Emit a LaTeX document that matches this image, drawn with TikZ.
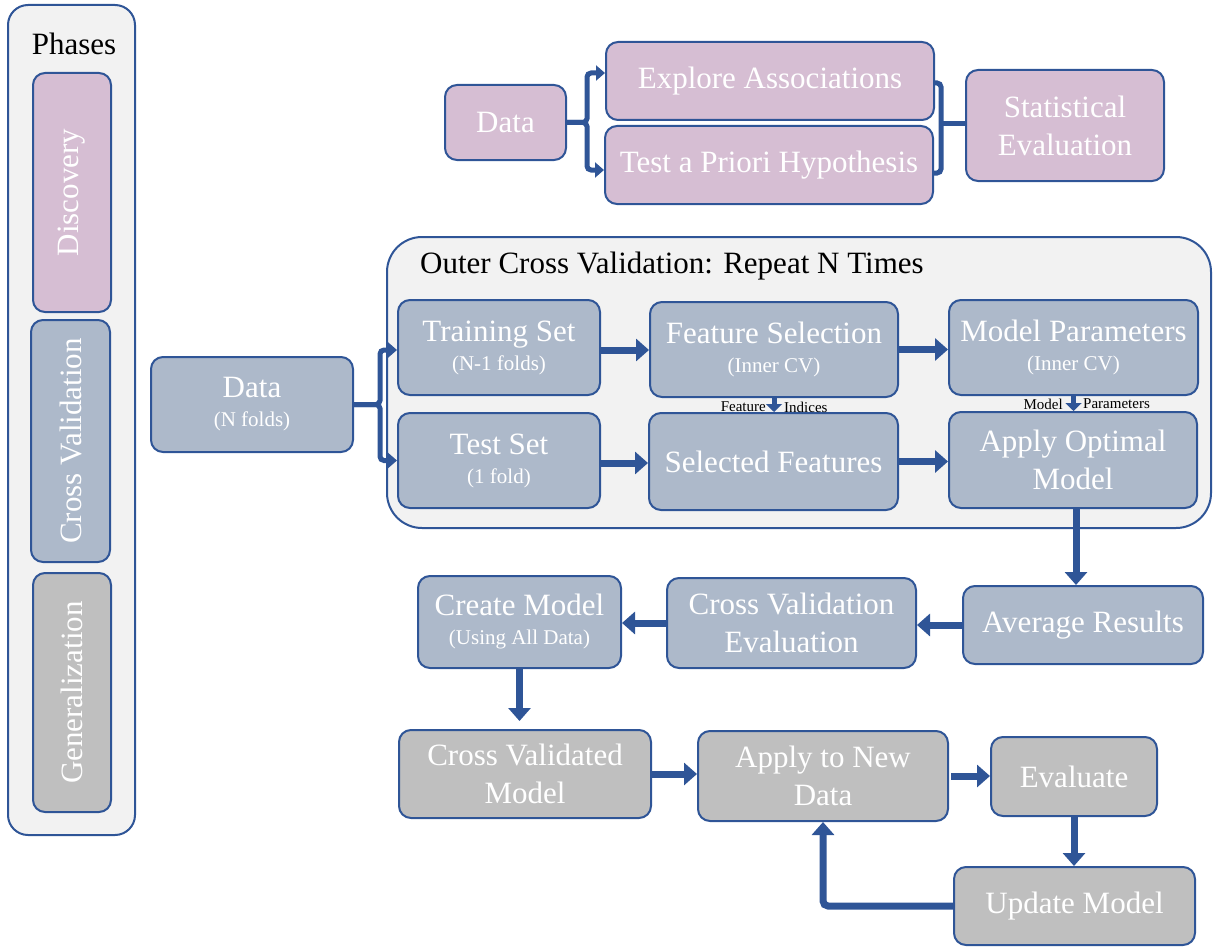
\documentclass[tikz,border=0pt]{standalone}
\usepackage{fontspec}
\setmainfont{Liberation Serif}
\usetikzlibrary{arrows.meta}
\definecolor{bord}{RGB}{47,85,151}
\definecolor{arrc}{RGB}{47,85,151}
\definecolor{purp}{RGB}{214,190,211}
\definecolor{blu}{RGB}{173,185,202}
\definecolor{gry}{RGB}{191,191,191}
\definecolor{panel}{RGB}{242,242,242}
\tikzset{
  box/.style={draw=bord, line width=2pt, rounded corners=12pt, inner sep=0pt, text=white, align=center,
    font=\fontsize{31}{38}\selectfont},
  pbox/.style={box, fill=purp},
  bbox/.style={box, fill=blu},
  gbox/.style={box, fill=gry},
  panelbox/.style={draw=bord, line width=2pt, fill=panel, inner sep=0pt},
  arr/.style={draw=arrc, line width=7pt, -{Triangle[length=13pt,width=22pt]}},
  barr/.style={draw=arrc, line width=5pt, rounded corners=4pt, -{Triangle[length=9pt,width=15pt]}},
  bline/.style={draw=arrc, line width=5pt, rounded corners=4pt},
  sarr/.style={draw=arrc, line width=5pt, -{Triangle[length=8pt,width=16pt]}},
  tiny/.style={font=\fontsize{15}{17}\selectfont, text=black, inner sep=0pt},
  title/.style={font=\fontsize{31}{34}\selectfont, text=black, inner sep=0pt},
}
\newcommand{\sub}[1]{{\fontsize{21}{24}\selectfont #1}}
\begin{document}
\begin{tikzpicture}[x=1pt,y=-1pt]
\useasboundingbox (0,0) rectangle (1217,947);
% phases panel
\node[panelbox, rounded corners=20pt, minimum width=127pt, minimum height=830pt] (phases) at (71.5,420) {};
\node[title] (phasestitle) at (74,44) {Phases};
\node[pbox, rotate=90, minimum width=239pt, minimum height=78pt] (disc) at (72,192.5) {Discovery};
\node[bbox, rotate=90, minimum width=242pt, minimum height=79pt] (cvph) at (70.5,441) {Cross Validation};
\node[gbox, rotate=90, minimum width=239pt, minimum height=78pt] (genph) at (72,692.5) {Generalization};
% discovery row
\node[pbox, minimum width=121pt, minimum height=75pt] (data1) at (505.5,122.5) {Data};
\node[pbox, minimum width=328pt, minimum height=78pt] (explore) at (770,81) {Explore Associations};
\node[pbox, minimum width=328pt, minimum height=78pt] (test) at (769,165) {Test a Priori Hypothesis};
\node[pbox, minimum width=198pt, minimum height=111pt] (stat) at (1065,125.5) {Statistical\\Evaluation};
\coordinate (j1) at (587,122.5);
\draw[barr] (data1.east) -- (j1) |- ([yshift=8pt]explore.west);
\draw[barr] (data1.east) -- (j1) |- ([yshift=-5pt]test.west);
\coordinate (j2) at (941,124);
\draw[bline] ([yshift=-2pt]explore.east) -| (j2) |- ([yshift=-8pt]test.east);
\draw[bline] (j2) -- (stat.west |- j2);
% outer CV
\node[panelbox, rounded corners=35pt, minimum width=824pt, minimum height=291pt] (outer) at (799,382.5) {};
\node[title, anchor=west] (outertitle) at (420,266) {Outer Cross Validation: Repeat N Times};
\node[bbox, minimum width=202pt, minimum height=95pt] (train) at (499,347.5) {Training Set\\[-9pt]\sub{(N-1 folds)}};
\node[bbox, minimum width=248pt, minimum height=95pt] (fsel) at (774,349.5) {Feature Selection\\[-9pt]\sub{(Inner CV)}};
\node[bbox, minimum width=249pt, minimum height=95pt] (mpar) at (1073.5,347.5) {Model Parameters\\[-9pt]\sub{(Inner CV)}};
\node[bbox, minimum width=202pt, minimum height=95pt] (tset) at (499,460.5) {Test Set\\[-9pt]\sub{(1 fold)}};
\node[bbox, minimum width=249pt, minimum height=97pt] (sfeat) at (773.5,461.5) {Selected Features};
\node[bbox, minimum width=248pt, minimum height=96pt] (apply) at (1073,460) {Apply Optimal\\Model};
\node[bbox, minimum width=202pt, minimum height=95pt] (data2) at (252,404.5) {Data\\[-9pt]\sub{(N folds)}};
\coordinate (j3) at (380,404.5);
\draw[barr] (data2.east) -- (j3) |- ([yshift=-2.5pt]train.west);
\draw[barr] (data2.east) -- (j3) |- (tset.west);
\draw[arr] ([yshift=-2.5pt]train.east) -- ([yshift=-2.5pt]train.east -| fsel.west);
\draw[arr] (fsel.east) -- (fsel.east -| mpar.west);
\draw[arr] ([yshift=-2.5pt]tset.east) -- ([yshift=-2.5pt]tset.east -| sfeat.west);
\draw[arr] (sfeat.east) -- (sfeat.east -| apply.west);
\draw[sarr] (fsel.south) -- (fsel.south |- sfeat.north);
\node[tiny, anchor=east] (fi1) at (766,407) {Feature};
\node[tiny, anchor=west] (fi2) at (784,407) {Indices};
\draw[sarr] (mpar.south) -- (mpar.south |- apply.north);
\node[tiny, anchor=east] (mp1) at (1063,404) {Model};
\node[tiny, anchor=west] (mp2) at (1083,404) {Parameters};
% after CV
\node[bbox, minimum width=240pt, minimum height=78pt] (avg) at (1083,625) {Average Results};
\node[bbox, minimum width=249pt, minimum height=90pt] (cve) at (791.5,623) {Cross Validation\\Evaluation};
\node[bbox, minimum width=203pt, minimum height=92pt] (create) at (519.5,622) {Create Model\\[-9pt]\sub{(Using All Data)}};
\draw[arr] ([xshift=3pt]apply.south) -- ([xshift=3pt]apply.south |- avg.north);
\draw[arr] (avg.west) -- (avg.west -| cve.east);
\draw[arr] (cve.west) -- (cve.west -| create.east);
% generalization
\node[gbox, minimum width=252pt, minimum height=88pt] (cvm) at (525,774) {Cross Validated\\Model};
\node[gbox, minimum width=250pt, minimum height=90pt] (anew) at (823,776) {Apply to New\\Data};
\node[gbox, minimum width=166pt, minimum height=79pt] (eval) at (1074,776.5) {Evaluate};
\node[gbox, minimum width=241pt, minimum height=78pt] (upd) at (1074.5,906) {Update Model};
\draw[arr] (create.south) -- ([yshift=8pt]create.south |- cvm.north);
\draw[arr] (cvm.east) -- (cvm.east -| anew.west);
\draw[arr] ([xshift=2pt]anew.east) -- (anew.east -| eval.west);
\draw[arr] (eval.south) -- (eval.south |- upd.north);
\draw[arr, rounded corners=5pt] (upd.west) -| (anew.south);
\end{tikzpicture}
\end{document}
